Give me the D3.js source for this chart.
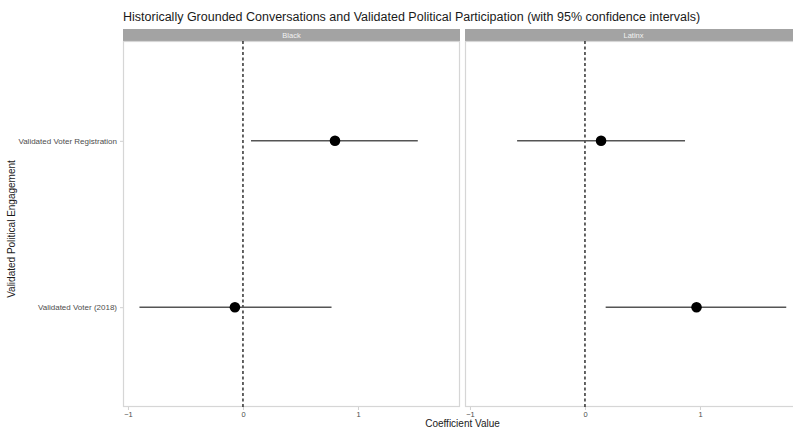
<!DOCTYPE html>
<html>
<head>
<meta charset="utf-8">
<script src="https://cdn.jsdelivr.net/npm/d3@7"></script>
<style>
  body { margin: 0; background: #fff; overflow: hidden; }
  text { font-family: "Liberation Sans", Arial, sans-serif; }
</style>
</head>
<body>
<div id="chart"></div>
<script>
const groups = ['Black', 'Latinx']
const outcomes = ['Validated Voter Registration', 'Validated Voter (2018)']
const estimates = [
  { group: 'Black', outcome: 'Validated Voter Registration', est: 0.80, lo: 0.07, hi: 1.52 },
  { group: 'Black', outcome: 'Validated Voter (2018)', est: -0.07, lo: -0.90, hi: 0.77 },
  { group: 'Latinx', outcome: 'Validated Voter Registration', est: 0.14, lo: -0.59, hi: 0.87 },
  { group: 'Latinx', outcome: 'Validated Voter (2018)', est: 0.97, lo: 0.18, hi: 1.75 },
]
const xTicks = [-1, 0, 1]

const W = 793, H = 428
const margin = { top: 41, left: 123, bottom: 21 },
  panelW = 337, gap = 5,
  panelH = H - margin.top - margin.bottom

const svg = d3.select('#chart').append('svg')
  .attr('width', W).attr('height', H)

// title
svg.append('text')
  .attr('x', margin.left).attr('y', 21)
  .attr('font-size', 12.5).attr('fill', '#1a1a1a')
  .text('Historically Grounded Conversations and Validated Political Participation (with 95% confidence intervals)')

const x = d3.scaleLinear().domain([-1.043, 1.887]).range([0, panelW])
const y = d3.scalePoint().domain(outcomes).range([0, panelH]).padding(0.6)

groups.forEach((g, i) => {
  const px = margin.left + i * (panelW + gap)
  const panel = svg.append('g').attr('transform', `translate(${px},${margin.top})`)

  // strip
  panel.append('rect')
    .attr('x', 0).attr('y', -12).attr('width', panelW).attr('height', 12)
    .attr('fill', '#a3a3a3')
  panel.append('text')
    .attr('x', panelW / 2).attr('y', -3.2)
    .attr('text-anchor', 'middle').attr('font-size', 7.5).attr('fill', '#f2f2f2')
    .text(g)

  // border
  panel.append('rect')
    .attr('x', 0.5).attr('y', 0.5).attr('width', panelW - 1).attr('height', panelH - 1)
    .attr('fill', 'none').attr('stroke', '#d6d6d6').attr('stroke-width', 1.2)

  // x axis
  const xa = panel.append('g').attr('transform', `translate(0,${panelH})`)
    .call(d3.axisBottom(x).tickValues(xTicks).tickSize(3).tickFormat(d3.format('d')))
  xa.select('.domain').remove()
  xa.selectAll('line').attr('stroke', '#d0d0d0')
  xa.selectAll('text').attr('font-size', 7.5).attr('fill', '#4d4d4d').attr('dy', '0.5em')

  // y axis on first panel
  if (i === 0) {
    const ya = panel.append('g').call(d3.axisLeft(y).tickSize(3))
    ya.select('.domain').remove()
    ya.selectAll('line').attr('stroke', '#d0d0d0')
    ya.selectAll('text').attr('font-size', 8).attr('fill', '#4d4d4d')
  }

  // zero line
  panel.append('line')
    .attr('x1', x(0)).attr('x2', x(0)).attr('y1', 0).attr('y2', panelH)
    .attr('stroke', '#222').attr('stroke-width', 1.4).attr('stroke-dasharray', '3,2.5')

  const rows = estimates.filter((d) => d.group === g)
  panel.selectAll('.ci').data(rows).join('line')
    .attr('x1', (d) => x(d.lo)).attr('x2', (d) => x(d.hi))
    .attr('y1', (d) => y(d.outcome)).attr('y2', (d) => y(d.outcome))
    .attr('stroke', '#555').attr('stroke-width', 1.4)
  panel.selectAll('.pt').data(rows).join('circle')
    .attr('cx', (d) => x(d.est)).attr('cy', (d) => y(d.outcome))
    .attr('r', 5.3).attr('fill', '#000')
})

// axis titles
svg.append('text')
  .attr('x', margin.left + (2 * panelW + gap) / 2).attr('y', 427)
  .attr('text-anchor', 'middle').attr('font-size', 10).attr('fill', '#1a1a1a')
  .text('Coefficient Value')
svg.append('text')
  .attr('transform', `translate(15,${margin.top + panelH / 2 + 5}) rotate(-90)`)
  .attr('text-anchor', 'middle').attr('font-size', 10).attr('fill', '#1a1a1a')
  .text('Validated Political Engagement')
</script>
</body>
</html>
